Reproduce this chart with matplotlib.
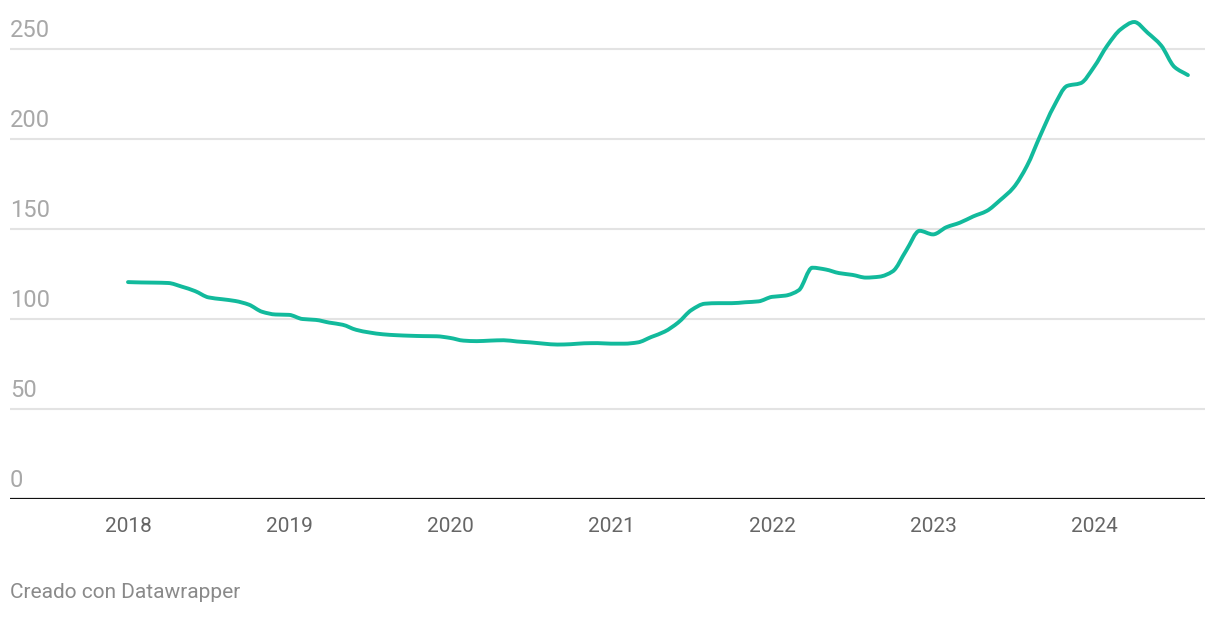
import numpy as np
import matplotlib
matplotlib.use("Agg")
import matplotlib.pyplot as plt
from matplotlib.path import Path
from matplotlib.patches import PathPatch

# monthly values, Jan 2018 .. Aug 2024
start_year = 2018
values = [120.5, 120.3, 120.2, 120.0, 118.0, 115.5, 112.0, 111.0, 110.0, 108.0, 104.0, 102.5,
          102.3, 100.0, 99.5, 98.0, 96.8, 94.0, 92.5, 91.5, 91.0, 90.7, 90.5, 90.4,
          89.5, 88.0, 87.7, 88.0, 88.2, 87.5, 87.0, 86.3, 85.8, 86.0, 86.5, 86.6,
          86.3, 86.3, 87.0, 90.0, 93.0, 98.0, 105.0, 108.5, 108.8, 108.8, 109.3, 109.8,
          112.3, 113.0, 116.0, 128.5, 127.5, 125.5, 124.5, 123.0, 123.5, 126.5, 138.0, 149.0,
          147.0, 151.0, 153.5, 157.0, 160.0, 166.0, 173.0, 185.0, 202.0, 218.0, 229.5, 231.0,
          240.0, 252.0, 261.0, 265.0, 259.0, 252.0, 240.0, 235.5]
year_ticks = [2018, 2019, 2020, 2021, 2022, 2023, 2024]
y_ticks = [0, 50, 100, 150, 200, 250]

x = start_year + np.arange(len(values)) / 12.0
y = np.array(values)


def monotone_path(xs, ys):
    # monotone cubic (like d3 curveMonotoneX) drawn as bezier segments
    n = len(xs)
    h = np.diff(xs)
    d = np.diff(ys) / h
    m = np.zeros(n)
    m[0], m[-1] = d[0], d[-1]
    for i in range(1, n - 1):
        if d[i - 1] * d[i] <= 0:
            m[i] = 0.0
        else:
            w1 = 2 * h[i] + h[i - 1]
            w2 = h[i] + 2 * h[i - 1]
            m[i] = (w1 + w2) / (w1 / d[i - 1] + w2 / d[i])
    verts = [(xs[0], ys[0])]
    codes = [Path.MOVETO]
    for i in range(n - 1):
        dx = h[i] / 3
        verts += [(xs[i] + dx, ys[i] + m[i] * dx),
                  (xs[i + 1] - dx, ys[i + 1] - m[i + 1] * dx),
                  (xs[i + 1], ys[i + 1])]
        codes += [Path.CURVE4] * 3
    return Path(verts, codes)


W, H = 1220, 618
fig = plt.figure(figsize=(W / 100, H / 100), dpi=100)
fig.patch.set_facecolor("white")

# axes placed in pixel terms: x 10..1205, y=0 at px 499, 1.8 px per unit
left, right, bottom, top = 10, 1205, 499, 10
ax = fig.add_axes([left / W, 1 - bottom / H, (right - left) / W, (bottom - top) / H])
ymax = (bottom - top) / 1.8
ax.set_ylim(0, ymax)
px_per_year = 161.0
x0 = 2018 - (128 - left) / px_per_year
ax.set_xlim(x0, x0 + (right - left) / px_per_year)

for t in y_ticks[1:]:
    ax.axhline(t, color="#e3e3e3", lw=1.5, zorder=1)
ax.axhline(0, color="#111111", lw=1.6, zorder=3)

ax.add_patch(PathPatch(monotone_path(x, y), facecolor="none", edgecolor="#12ba9c",
                       lw=2.8, capstyle="round", joinstyle="round", zorder=4))

for spine in ax.spines.values():
    spine.set_visible(False)
ax.set_xticks([])
ax.set_yticks([])

# y labels sit above their gridlines
for t in y_ticks:
    ax.annotate(str(t), xy=(0, t), xycoords=("axes fraction", "data"),
                xytext=(0, 7), textcoords="offset pixels",
                ha="left", va="bottom", fontsize=17, color="#a8a8a8",
                family="Roboto")

for yr in year_ticks:
    ax.annotate(str(yr), xy=(yr, 0), xycoords=("data", "data"),
                xytext=(0, -28), textcoords="offset pixels",
                ha="center", va="center", fontsize=15, color="#666666",
                family="Roboto")

fig.text(10 / W, 1 - 592 / H, "Creado con Datawrapper", ha="left", va="center",
         fontsize=15, color="#8a8a8a", family="Roboto")

fig.savefig("out.png", dpi=100, facecolor="white")
